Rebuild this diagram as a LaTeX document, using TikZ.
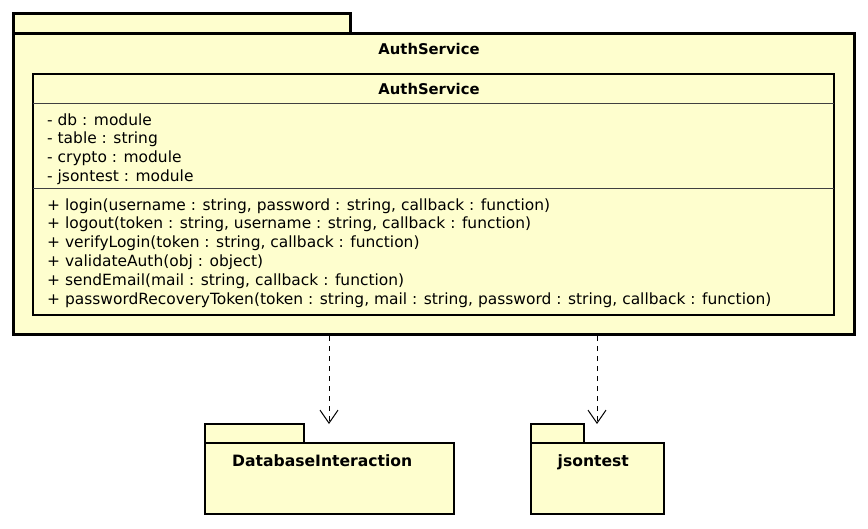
\documentclass[tikz,border=0pt]{standalone}
\usepackage{fontspec}
\setmainfont{DejaVu Sans}
\usetikzlibrary{arrows.meta}
\definecolor{umlfill}{HTML}{FEFECE}
\tikzset{
  pkg/.style={draw=black, fill=umlfill, line width=2.6pt, inner sep=0pt, outer sep=0pt, rectangle},
  outerpkg/.style={pkg, line width=3pt},
  classbox/.style={draw=black, fill=umlfill, line width=2.6pt, inner sep=0pt, outer sep=0pt, rectangle},
  sep/.style={draw=black!75, line width=1pt},
  ttl/.style={font=\fontsize{14.8}{17}\selectfont\bfseries, inner sep=0pt, anchor=base},
  pkgttl/.style={font=\fontsize{15.6}{18}\selectfont\bfseries, inner sep=0pt, anchor=base west},
  mem/.style={font=\fontsize{15.45}{18}\selectfont, inner sep=0pt, anchor=base west},
  dep/.style={draw=black, line width=1pt, dash pattern=on 5pt off 5pt, -{Straight Barb[length=13pt,width=18pt,line width=1pt]}}
}
\begin{document}
\begin{tikzpicture}[x=1pt,y=-1pt]
\useasboundingbox (0,0) rectangle (868,528);
% outer package AuthService
\node[outerpkg, minimum width=337pt, minimum height=20pt] (authtab) at (181.5,23) {};
\node[outerpkg, minimum width=841pt, minimum height=301pt] (authpkg) at (433.5,183.5) {};
\node[ttl] (authpkgtitle) at (429,54) {AuthService};
% class AuthService
\node[classbox, minimum width=801pt, minimum height=241pt] (authcls) at (433.5,194.5) {};
\node[ttl] (authclstitle) at (429,94) {AuthService};
\coordinate (s1) at (33,103);
\coordinate (s2) at (33,188);
\draw[sep] (s1) -- (s1 -| authcls.east);
\draw[sep] (s2) -- (s2 -| authcls.east);
\node[mem] (a1) at (47,125) {- db : module};
\node[mem] (a2) at (47,143.7) {- table : string};
\node[mem] (a3) at (47,162.4) {- crypto : module};
\node[mem] (a4) at (47,181.1) {- jsontest : module};
\node[mem] (m1) at (47,210) {+ login(username : string, password : string, callback : function)};
\node[mem] (m2) at (47,228.8) {+ logout(token : string, username : string, callback : function)};
\node[mem] (m3) at (47,247.6) {+ verifyLogin(token : string, callback : function)};
\node[mem] (m4) at (47,266.4) {+ validateAuth(obj : object)};
\node[mem] (m5) at (47,285.2) {+ sendEmail(mail : string, callback : function)};
\node[mem] (m6) at (47,304) {+ passwordRecoveryToken(token : string, mail : string, password : string, callback : function)};
% package DatabaseInteraction
\node[pkg, minimum width=99pt, minimum height=19pt] (dbtab) at (254.5,433.5) {};
\node[pkg, minimum width=249pt, minimum height=71pt] (dbpkg) at (329.5,478.5) {};
\node[pkgttl] (dbtitle) at (232,466.5) {DatabaseInteraction};
% package jsontest
\node[pkg, minimum width=53pt, minimum height=19pt] (jstab) at (557.5,433.5) {};
\node[pkg, minimum width=133pt, minimum height=71pt] (jspkg) at (597.5,478.5) {};
\node[pkgttl] (jstitle) at (557.5,466.5) {jsontest};
% dependencies
\coordinate (dbend) at (329,424);
\coordinate (jsend) at (597,424);
\draw[dep] ([yshift=-2pt]authpkg.south -| dbend) -- (dbend);
\draw[dep] ([yshift=-2pt]authpkg.south -| jsend) -- (jsend);
\end{tikzpicture}
\end{document}
